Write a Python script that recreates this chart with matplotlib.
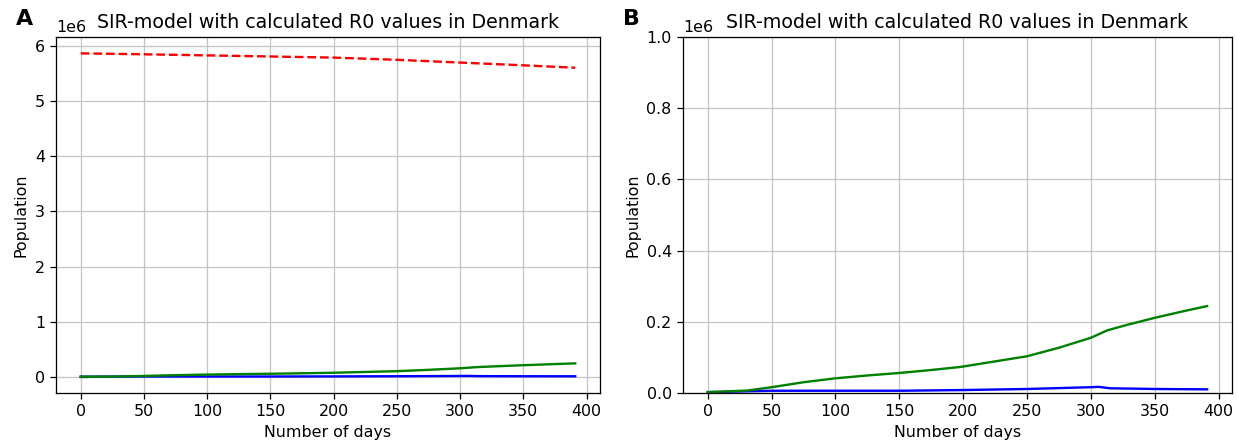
import numpy as np
import matplotlib.pyplot as plt

# values (population in millions)
days_s = [0, 50, 100, 150, 200, 250, 300, 350, 391]
susceptible = [5.867, 5.85, 5.83, 5.81, 5.79, 5.75, 5.70, 5.65, 5.606]

days_r = [0, 31, 50, 75, 100, 125, 150, 174, 198, 250, 275, 300, 313, 327, 350, 373, 391]
recovered = [0.002, 0.0066, 0.016, 0.030, 0.041, 0.049, 0.056, 0.064, 0.073,
             0.103, 0.127, 0.155, 0.176, 0.190, 0.211, 0.230, 0.244]

days_i = [0, 25, 50, 100, 150, 200, 250, 280, 300, 306, 315, 350, 391]
infected = [0.002, 0.004, 0.006, 0.006, 0.006, 0.008, 0.011, 0.014, 0.016, 0.017, 0.013, 0.011, 0.010]

days_c = [0, 5]
cases = [0.002, 0.002]

title = "SIR-model with calculated R0 values in Denmark"

fig = plt.figure(figsize=(1237 / 114, 448 / 114), dpi=114)
ax1 = fig.add_axes([0.0453, 0.123, 0.4397, 0.794])
ax2 = fig.add_axes([0.552, 0.123, 0.444, 0.794])

for ax in (ax1, ax2):
    ax.plot(days_c, np.array(cases) * 1e6, color="C0", lw=1.5)
    ax.plot(days_s, np.array(susceptible) * 1e6, "r--", lw=1.5)
    ax.plot(days_i, np.array(infected) * 1e6, color="b", lw=1.5)
    ax.plot(days_r, np.array(recovered) * 1e6, color="g", lw=1.5)
    ax.grid(True, color="#c4c4c4")
    ax.set_title(title)
    ax.set_xlabel("Number of days")
    ax.set_ylabel("Population")
    ax.set_xticks(np.arange(0, 401, 50))

ax2.set_ylim(0, 1e6)

fig.text(0.013, 0.945, "A", fontsize=14, fontweight="bold")
fig.text(0.504, 0.945, "B", fontsize=14, fontweight="bold")

fig.savefig("out.png", dpi=114)
